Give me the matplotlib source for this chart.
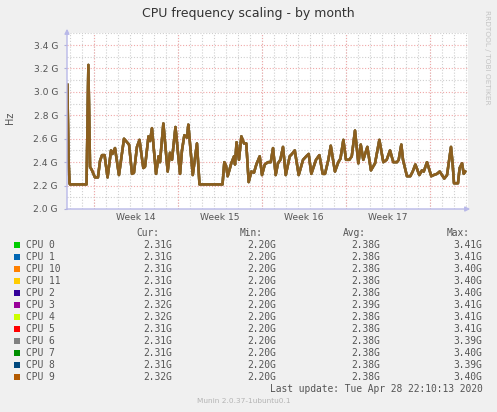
import matplotlib
matplotlib.use("Agg")
import matplotlib.pyplot as plt
from matplotlib.patches import Rectangle

# ---------------- data ----------------
# time in days since the left edge of the month window
days = [0.03, 0.13, 0.21, 0.25, 1.63, 1.78, 1.92, 2.08, 2.33, 2.58, 2.75, 2.92, 3.13, 3.38,
        3.67, 3.79, 4.00, 4.33, 4.75, 5.00, 5.17, 5.42, 5.58, 5.83, 6.04, 6.36, 6.50, 6.79,
        6.92, 7.08, 7.42, 7.63, 7.75, 8.03, 8.39, 8.58, 8.75, 9.04, 9.42, 9.58, 9.78, 10.00,
        10.11, 10.48, 10.83, 11.04, 12.96, 13.11, 13.25, 13.39, 13.69, 13.92, 14.00, 14.13,
        14.33, 14.53, 14.75, 14.94, 15.14, 15.36, 15.58, 15.78, 16.06, 16.25, 16.48, 16.75,
        16.98, 17.17, 17.39, 17.58, 17.78, 18.00, 18.23, 18.56, 18.75, 18.98, 19.31, 19.67,
        19.94, 20.14, 20.36, 20.75, 21.03, 21.31, 21.50, 21.78, 21.98, 22.33, 22.61, 22.79,
        23.03, 23.25, 23.53, 23.73, 24.00, 24.28, 24.48, 24.69, 25.03, 25.33, 25.67, 26.03,
        26.36, 26.64, 26.92, 27.19, 27.50, 27.64, 27.86, 28.00, 28.33, 28.61, 28.81, 29.03,
        29.36, 29.58, 29.73, 30.00, 30.36, 30.56, 30.83, 31.06, 31.25, 31.44, 31.67, 32.00,
        32.14, 32.25, 32.58, 32.72, 32.92, 33.06, 33.19]
freq_ghz = [3.06, 2.42, 2.22, 2.21, 2.21, 3.23, 2.36, 2.33, 2.27, 2.27, 2.41, 2.46, 2.46, 2.27,
            2.50, 2.47, 2.52, 2.29, 2.60, 2.57, 2.55, 2.30, 2.31, 2.53, 2.59, 2.35, 2.36, 2.62,
            2.58, 2.69, 2.30, 2.45, 2.40, 2.73, 2.32, 2.48, 2.42, 2.70, 2.30, 2.50, 2.63, 2.61,
            2.72, 2.29, 2.56, 2.21, 2.21, 2.40, 2.37, 2.28, 2.39, 2.45, 2.38, 2.57,
            2.42, 2.62, 2.56, 2.56, 2.23, 2.32, 2.31, 2.38, 2.45, 2.29, 2.38, 2.40,
            2.40, 2.52, 2.29, 2.39, 2.42, 2.53, 2.29, 2.45, 2.47, 2.50, 2.29, 2.42,
            2.45, 2.47, 2.30, 2.42, 2.46, 2.30, 2.30, 2.42, 2.54, 2.32, 2.40, 2.43,
            2.59, 2.42, 2.42, 2.45, 2.67, 2.39, 2.55, 2.42, 2.53, 2.33, 2.39, 2.59,
            2.40, 2.42, 2.50, 2.40, 2.40, 2.42, 2.55, 2.42, 2.28, 2.28, 2.32, 2.38,
            2.29, 2.33, 2.32, 2.40, 2.28, 2.29, 2.30, 2.32, 2.29, 2.26, 2.29, 2.53,
            2.38, 2.22, 2.22, 2.35, 2.39, 2.30, 2.32]

cpu_names = ["CPU 0", "CPU 1", "CPU 10", "CPU 11", "CPU 2", "CPU 3", "CPU 4", "CPU 5",
             "CPU 6", "CPU 7", "CPU 8", "CPU 9"]
cpu_colors = ["#00CC00", "#0066B3", "#FF8000", "#FFCC00", "#330099", "#990099", "#CCFF00",
              "#FF0000", "#808080", "#008F00", "#00487D", "#B35A00"]
cur_vals = ["2.31G", "2.31G", "2.31G", "2.31G", "2.31G", "2.32G", "2.32G", "2.31G", "2.31G",
            "2.31G", "2.31G", "2.32G"]
min_vals = ["2.20G"] * 12
avg_vals = ["2.38G", "2.38G", "2.38G", "2.38G", "2.38G", "2.39G", "2.38G", "2.38G", "2.38G",
            "2.38G", "2.38G", "2.38G"]
max_vals = ["3.41G", "3.41G", "3.40G", "3.40G", "3.40G", "3.41G", "3.41G", "3.41G", "3.39G",
            "3.40G", "3.39G", "3.40G"]

week_starts = [2.27, 9.27, 16.27, 23.27, 30.27]
week_labels = ["Week 14", "Week 15", "Week 16", "Week 17"]
y_ticks = [2.0, 2.2, 2.4, 2.6, 2.8, 3.0, 3.2, 3.4]

# ---------------- figure ----------------
W, H = 497, 412
BG = "#F0F0F0"
TXT = "#555555"
fig = plt.figure(figsize=(W / 100, H / 100), dpi=100, facecolor=BG)

def fx(x):
    return x / W

def fy(y):
    return 1 - y / H

L, R, T, B = 67, 468, 33.3, 209
ax = fig.add_axes([fx(L), fy(B), (R - L) / W, (B - T) / H])
ax.set_facecolor("white")
x_max = (R - L) / 12.0
ax.set_xlim(0, x_max)
ax.set_ylim(2.0, 3.5)
for s in ax.spines.values():
    s.set_visible(False)

# grid
minor_col = "#CFCFCF"
major_col = "#F0A8A8"
d = 0.27
while d < x_max:
    ax.axvline(d, color=minor_col, lw=0.8, ls=(0, (1, 1.6)), zorder=1)
    d += 1
v = 2.1
while v < 3.51:
    ax.axhline(v, color=minor_col, lw=0.8, ls=(0, (1, 1.6)), zorder=1)
    v += 0.2
for w in week_starts:
    ax.axvline(w, color=major_col, lw=0.8, ls=(0, (1, 1.6)), zorder=2)
for t in y_ticks[1:]:
    ax.axhline(t, color=major_col, lw=0.8, ls=(0, (1, 1.6)), zorder=2)

# series (all CPUs overlap almost exactly; the last drawn, CPU 9, dominates)
n = len(cpu_names)
for i, (name, col) in enumerate(zip(cpu_names, cpu_colors)):
    ax.plot(days, freq_ghz, color=col, lw=1.8, alpha=0.3 if i < n - 1 else 0.6, zorder=3,
            solid_joinstyle="round")

# ticks
ax.set_yticks(y_ticks)
ax.set_yticklabels([f"{t:.1f} G" for t in y_ticks], fontsize=6.6, color=TXT)
ax.tick_params(axis="y", length=2.5, width=0.8, color="#B0B0D8", pad=4)
mids = [(week_starts[i] + week_starts[i + 1]) / 2 for i in range(len(week_labels))]
ax.set_xticks(mids)
ax.set_xticklabels(week_labels, fontsize=6.6, color=TXT)
ax.tick_params(axis="x", length=0, pad=3)

# axis lines with arrows
axis_col = "#B8B8E8"
ax.annotate("", xy=(L, H - 26), xytext=(L, H - B - 3), xycoords="figure pixels",
            textcoords="figure pixels",
            arrowprops=dict(arrowstyle="-|>", color=axis_col, lw=1.0, mutation_scale=7))
ax.annotate("", xy=(R + 5, H - B), xytext=(L - 3, H - B), xycoords="figure pixels",
            textcoords="figure pixels",
            arrowprops=dict(arrowstyle="-|>", color=axis_col, lw=1.0, mutation_scale=7))

# titles
fig.text(fx(248), fy(13), "CPU frequency scaling - by month", fontsize=9, color="#333333",
         ha="center", va="center")
fig.text(fx(10), fy(118), "Hz", fontsize=7, color=TXT, rotation=90, ha="center", va="center")
fig.text(fx(487), fy(57), "RRDTOOL / TOBI OETIKER", fontsize=5.3, color="#C4C4C4",
         rotation=270, ha="center", va="center")

# legend
mono = "DejaVu Sans Mono"
fs = 6.9
hdr_y = 233
fig.text(fx(136), fy(hdr_y), "Cur:", family=mono, fontsize=fs, color=TXT, va="center")
fig.text(fx(240), fy(hdr_y), "Min:", family=mono, fontsize=fs, color=TXT, va="center")
fig.text(fx(343), fy(hdr_y), "Avg:", family=mono, fontsize=fs, color=TXT, va="center")
fig.text(fx(447), fy(hdr_y), "Max:", family=mono, fontsize=fs, color=TXT, va="center")
for i, name in enumerate(cpu_names):
    y = 244.5 + 12 * i
    fig.patches.append(Rectangle((fx(14), fy(y + 3)), 6 / W, 6 / H, transform=fig.transFigure,
                                 facecolor=cpu_colors[i], edgecolor="none"))
    fig.text(fx(26.5), fy(y), name, family=mono, fontsize=fs, color=TXT, va="center")
    fig.text(fx(172.5), fy(y), cur_vals[i], family=mono, fontsize=fs, color=TXT,
             va="center", ha="right")
    fig.text(fx(276.5), fy(y), min_vals[i], family=mono, fontsize=fs, color=TXT,
             va="center", ha="right")
    fig.text(fx(379.5), fy(y), avg_vals[i], family=mono, fontsize=fs, color=TXT,
             va="center", ha="right")
    fig.text(fx(482.5), fy(y), max_vals[i], family=mono, fontsize=fs, color=TXT,
             va="center", ha="right")

fig.text(fx(482.5), fy(388.5), "Last update: Tue Apr 28 22:10:13 2020", family=mono,
         fontsize=fs, color=TXT, va="center", ha="right")
fig.text(fx(244), fy(401), "Munin 2.0.37-1ubuntu0.1", fontsize=5.3, color="#B4B4B4",
         va="center", ha="center")

fig.savefig("out.png", dpi=100, facecolor=BG)
